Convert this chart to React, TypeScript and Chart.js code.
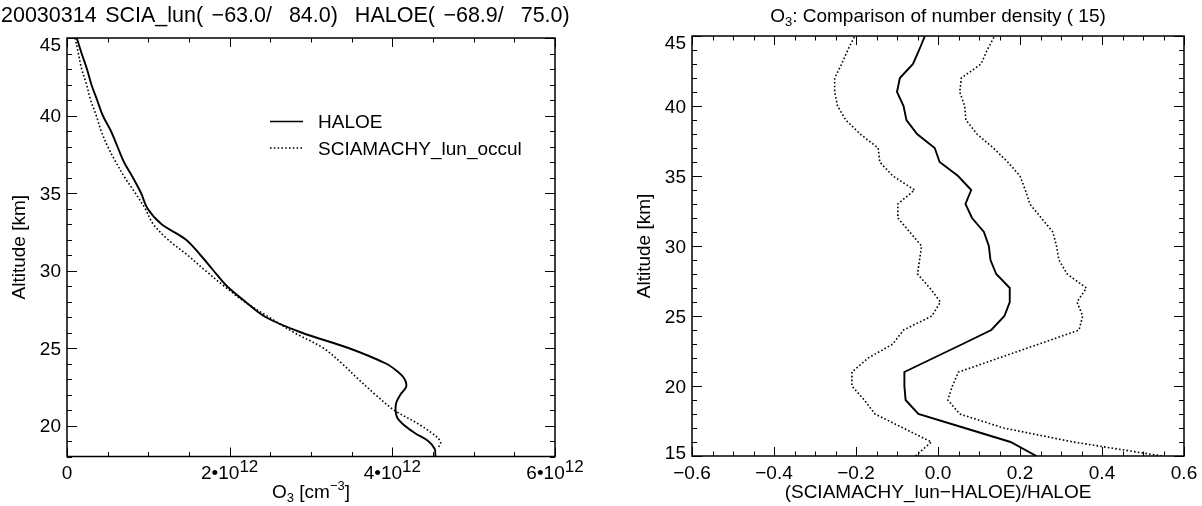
import React, { useEffect, useRef } from "react";
import { Chart, registerables } from "chart.js";

Chart.register(...registerables);

const FONT = '"Liberation Sans", Arial, Helvetica, sans-serif';
const MINUS = "\u2212";

// ---------------- Left panel: O3 number density (units of 10^12 cm^-3) ----------------
const haloeAltitude = [45, 44, 43, 42, 41, 40, 39, 38, 37, 36, 35, 34, 33, 32, 31, 30, 29, 28, 27, 26, 25, 24, 23.5, 23, 22.5, 22, 21.5, 21, 20.5, 20, 19.5, 19, 18.5, 18];
const haloeO3 = [0.12, 0.18, 0.245, 0.3, 0.37, 0.44, 0.54, 0.62, 0.7, 0.81, 0.91, 0.99, 1.16, 1.46, 1.64, 1.8, 1.965, 2.19, 2.44, 2.88, 3.46, 3.92, 4.06, 4.15, 4.17, 4.1, 4.05, 4.04, 4.06, 4.15, 4.28, 4.44, 4.52, 4.53];
const sciaAltitude = [45, 44, 43, 42, 41, 40, 39, 38, 37, 36, 35, 34, 33, 32, 31, 30, 29, 28, 27, 26, 25, 24, 23, 22, 21, 20, 19, 18.5];
const sciaO3 = [0.1, 0.14, 0.18, 0.24, 0.29, 0.36, 0.42, 0.5, 0.6, 0.71, 0.84, 0.96, 1.06, 1.24, 1.48, 1.7, 1.93, 2.18, 2.48, 2.79, 3.15, 3.38, 3.58, 3.79, 4.02, 4.35, 4.59, 4.56];
const leftXTicks = [0, 2, 4, 6];
const leftYTicks = [20, 25, 30, 35, 40, 45];
const leftTitle = "20030314 SCIA_lun( " + MINUS + "63.0/  84.0)  HALOE( " + MINUS + "68.9/  75.0)";
const leftLegend = ["HALOE", "SCIAMACHY_lun_occul"];

// ---------------- Right panel: relative deviation statistics ----------------
const devAltitude = [15, 16, 17, 18, 19, 20, 21, 22, 23, 24, 25, 26, 27, 28, 29, 30, 31, 32, 33, 34, 35, 36, 37, 38, 39, 40, 41, 42, 43, 44, 45];
const meanDeviation = [0.24, 0.177, 0.065, -0.048, -0.079, -0.082, -0.082, -0.011, 0.06, 0.13, 0.162, 0.175, 0.175, 0.142, 0.128, 0.124, 0.112, 0.083, 0.067, 0.081, 0.049, 0.004, -0.008, -0.051, -0.077, -0.084, -0.1, -0.093, -0.061, -0.046, -0.032];
const rmsUpper = [0.546, 0.33, 0.16, 0.053, 0.024, 0.035, 0.05, 0.148, 0.246, 0.344, 0.353, 0.339, 0.362, 0.315, 0.295, 0.289, 0.28, 0.252, 0.224, 0.213, 0.2, 0.17, 0.135, 0.095, 0.068, 0.065, 0.053, 0.057, 0.105, 0.12, 0.138];
const rmsLower = [-0.055, -0.016, -0.085, -0.154, -0.18, -0.21, -0.21, -0.17, -0.11, -0.084, -0.015, 0.006, -0.02, -0.05, -0.045, -0.04, -0.069, -0.098, -0.098, -0.057, -0.11, -0.142, -0.146, -0.19, -0.225, -0.245, -0.252, -0.252, -0.235, -0.22, -0.203];
const rightXTicks = [-0.6, -0.4, -0.2, 0, 0.2, 0.4, 0.6];
const rightYTicks = [15, 20, 25, 30, 35, 40, 45];
const rightTitle = ": Comparison of number density ( 15)";
const rightLegend = ["Mean Deviation", "RMS"];

type Part = { t: string; s: number; dy: number };

function drawRich(ctx: CanvasRenderingContext2D, parts: Part[], x: number, baseline: number, align: "left" | "center" | "right") {
  let total = 0;
  const widths = parts.map((p) => {
    ctx.font = `${p.s}px ${FONT}`;
    const w = ctx.measureText(p.t).width;
    total += w;
    return w;
  });
  let cx = align === "left" ? x : align === "center" ? x - total / 2 : x - total;
  ctx.textAlign = "left";
  ctx.textBaseline = "alphabetic";
  parts.forEach((p, i) => {
    ctx.font = `${p.s}px ${FONT}`;
    ctx.fillText(p.t, cx, baseline + p.dy);
    cx += widths[i];
  });
}

function tickValues(min: number, max: number, step: number) {
  const out: number[] = [];
  const n = Math.round((max - min) / step);
  for (let i = 0; i <= n; i++) out.push(min + i * step);
  return out;
}

function isMajor(v: number, step: number) {
  const r = v / step;
  return Math.abs(r - Math.round(r)) < 1e-6;
}

type PanelSpec = {
  width: number;
  padding: { left: number; right: number; top: number; bottom: number };
  xMin: number; xMax: number; yMin: number; yMax: number;
  xMajor: number; xMinor: number; yMajor: number; yMinor: number;
  datasets: any[];
  decorate: (ctx: CanvasRenderingContext2D, chart: any) => void;
};

function drawFrameAndTicks(ctx: CanvasRenderingContext2D, chart: any, spec: PanelSpec) {
  const ca = chart.chartArea;
  const xs = chart.scales.x;
  const ys = chart.scales.y;
  ctx.save();
  ctx.strokeStyle = "#000";
  ctx.lineWidth = 1;
  for (const v of tickValues(spec.xMin, spec.xMax, spec.xMinor)) {
    const px = Math.round(xs.getPixelForValue(v)) + 0.5;
    const len = isMajor(v, spec.xMajor) ? 9 : 4.5;
    ctx.beginPath();
    ctx.moveTo(px, ca.bottom);
    ctx.lineTo(px, ca.bottom - len);
    ctx.moveTo(px, ca.top);
    ctx.lineTo(px, ca.top + len);
    ctx.stroke();
  }
  for (const v of tickValues(spec.yMin, spec.yMax, spec.yMinor)) {
    const py = Math.round(ys.getPixelForValue(v)) + 0.5;
    const len = isMajor(v, spec.yMajor) ? 10 : 5;
    ctx.beginPath();
    ctx.moveTo(ca.left, py);
    ctx.lineTo(ca.left + len, py);
    ctx.moveTo(ca.right, py);
    ctx.lineTo(ca.right - len, py);
    ctx.stroke();
  }
  ctx.lineWidth = 1.5;
  ctx.strokeRect(ca.left, ca.top, ca.right - ca.left, ca.bottom - ca.top);
  ctx.restore();
}

function drawYLabels(ctx: CanvasRenderingContext2D, chart: any, ticks: number[]) {
  const ca = chart.chartArea;
  const ys = chart.scales.y;
  ctx.save();
  ctx.fillStyle = "#000";
  ctx.font = `19px ${FONT}`;
  ctx.textAlign = "right";
  ctx.textBaseline = "alphabetic";
  for (const v of ticks) {
    let cy = ys.getPixelForValue(v);
    cy = Math.max(cy, ca.top + 6);
    cy = Math.min(cy, ca.bottom - 3.5);
    ctx.fillText(String(v), ca.left - 6, cy + 6.8);
  }
  ctx.restore();
}

function drawRotated(ctx: CanvasRenderingContext2D, text: string, x: number, y: number, size: number) {
  ctx.save();
  ctx.translate(x, y);
  ctx.rotate(-Math.PI / 2);
  ctx.font = `${size}px ${FONT}`;
  ctx.fillStyle = "#000";
  ctx.textAlign = "center";
  ctx.textBaseline = "middle";
  ctx.fillText(text, 0, 0);
  ctx.restore();
}

function drawLegend(ctx: CanvasRenderingContext2D, items: { label: string; dash: number[] }[], x0: number, x1: number, tx: number, y0: number, dy: number) {
  ctx.save();
  items.forEach((it, i) => {
    const y = y0 + i * dy;
    ctx.strokeStyle = "#000";
    ctx.lineWidth = it.dash.length ? 1.5 : 1.6;
    ctx.setLineDash(it.dash);
    ctx.beginPath();
    ctx.moveTo(x0, y);
    ctx.lineTo(x1, y);
    ctx.stroke();
    ctx.setLineDash([]);
    ctx.fillStyle = "#000";
    ctx.font = `19px ${FONT}`;
    ctx.textAlign = "left";
    ctx.textBaseline = "alphabetic";
    ctx.fillText(it.label, tx, y + 6.8);
  });
  ctx.restore();
}

const SOLID_DASH: number[] = [];
const DOT_DASH = [1.6, 2.2];

function lineDataset(xVals: number[], yVals: number[], dotted: boolean, tension: number) {
  return {
    data: yVals.map((y, i) => ({ x: xVals[i], y })),
    showLine: true,
    borderColor: "#000",
    backgroundColor: "#000",
    borderWidth: dotted ? 1.6 : 1.9,
    borderDash: dotted ? DOT_DASH : SOLID_DASH,
    pointRadius: 0,
    tension,
    fill: false,
  };
}

const leftSpec: PanelSpec = {
  width: 587,
  padding: { left: 67, right: 32, top: 38, bottom: 49.5 },
  xMin: 0, xMax: 6, yMin: 18, yMax: 45,
  xMajor: 2, xMinor: 0.5, yMajor: 5, yMinor: 1,
  datasets: [lineDataset(haloeO3, haloeAltitude, false, 0.35), lineDataset(sciaO3, sciaAltitude, true, 0.35)],
  decorate: (ctx, chart) => {
    const ca = chart.chartArea;
    const xs = chart.scales.x;
    ctx.save();
    ctx.fillStyle = "#000";
    // title (clipped by the canvas edge, as in the original)
    ctx.font = `21.5px ${FONT}`;
    ctx.textAlign = "left";
    ctx.textBaseline = "alphabetic";
    (ctx as any).wordSpacing = "2.5px";
    ctx.fillText(leftTitle, 1, 22);
    (ctx as any).wordSpacing = "0px";
    // x tick labels
    for (const v of leftXTicks) {
      const px = xs.getPixelForValue(v);
      if (v === 0) drawRich(ctx, [{ t: "0", s: 19, dy: 0 }], px, 479, "center");
      else drawRich(ctx, [{ t: `${v}\u202210`, s: 19, dy: 0 }, { t: "12", s: 17, dy: -7 }], px, 479, "center");
    }
    drawYLabels(ctx, chart, leftYTicks);
    drawRich(ctx, [
      { t: "O", s: 19, dy: 0 }, { t: "3", s: 13, dy: 4 }, { t: " [cm", s: 19, dy: 0 },
      { t: MINUS + "3", s: 13, dy: -8 }, { t: "]", s: 19, dy: 0 },
    ], (ca.left + ca.right) / 2, 498, "center");
    drawRotated(ctx, "Altitude [km]", 20, (ca.top + ca.bottom) / 2, 19);
    drawLegend(ctx, [{ label: leftLegend[0], dash: [] }, { label: leftLegend[1], dash: DOT_DASH }], 270, 303, 318, 121.5, 26.5);
    ctx.restore();
  },
};

const rightSpec: PanelSpec = {
  width: 602,
  padding: { left: 92, right: 18, top: 36, bottom: 50 },
  xMin: -0.6, xMax: 0.6, yMin: 15, yMax: 45,
  xMajor: 0.2, xMinor: 0.05, yMajor: 5, yMinor: 1,
  datasets: [
    lineDataset(meanDeviation, devAltitude, false, 0),
    lineDataset(rmsUpper, devAltitude, true, 0),
    lineDataset(rmsLower, devAltitude, true, 0),
  ],
  decorate: (ctx, chart) => {
    const ca = chart.chartArea;
    const xs = chart.scales.x;
    ctx.save();
    ctx.fillStyle = "#000";
    drawRich(ctx, [{ t: "O", s: 19, dy: 0 }, { t: "3", s: 13, dy: 4 }, { t: rightTitle, s: 19, dy: 0 }], (ca.left + ca.right) / 2, 22, "center");
    for (const v of rightXTicks) {
      const px = xs.getPixelForValue(v);
      const s = v.toFixed(1).replace("-", MINUS);
      drawRich(ctx, [{ t: s, s: 19, dy: 0 }], px, 479, "center");
    }
    drawYLabels(ctx, chart, rightYTicks);
    drawRich(ctx, [{ t: "(SCIAMACHY_lun" + MINUS + "HALOE)/HALOE", s: 19, dy: 0 }], (ca.left + ca.right) / 2, 498, "center");
    drawRotated(ctx, "Altitude [km]", 45, (ca.top + ca.bottom) / 2, 19);
    drawLegend(ctx, [{ label: rightLegend[0], dash: [] }, { label: rightLegend[1], dash: DOT_DASH }], 713, 745, 762, 176, 27);
    ctx.restore();
  },
};

function makeChart(canvas: HTMLCanvasElement, spec: PanelSpec) {
  const framePlugin = {
    id: "idlFrame",
    afterDraw(chart: any) {
      const ctx = chart.ctx as CanvasRenderingContext2D;
      drawFrameAndTicks(ctx, chart, spec);
      spec.decorate(ctx, chart);
    },
  };
  return new Chart(canvas, {
    type: "scatter",
    data: { datasets: spec.datasets },
    options: {
      animation: false,
      responsive: false,
      maintainAspectRatio: false,
      devicePixelRatio: 1,
      events: [],
      layout: { padding: spec.padding },
      plugins: { legend: { display: false }, tooltip: { enabled: false }, title: { display: false } },
      scales: {
        x: { type: "linear", min: spec.xMin, max: spec.xMax, display: false },
        y: { type: "linear", min: spec.yMin, max: spec.yMax, display: false },
      },
    } as any,
    plugins: [framePlugin],
  });
}

export default function App() {
  const leftRef = useRef<HTMLCanvasElement>(null);
  const rightRef = useRef<HTMLCanvasElement>(null);

  useEffect(() => {
    const a = makeChart(leftRef.current!, leftSpec);
    const b = makeChart(rightRef.current!, rightSpec);
    return () => {
      a.destroy();
      b.destroy();
    };
  }, []);

  return (
    <div style={{ position: "absolute", left: 0, top: 0, width: 1202, height: 506, background: "#fff", overflow: "hidden" }}>
      <canvas ref={leftRef} width={leftSpec.width} height={506} style={{ position: "absolute", left: 0, top: 0, width: leftSpec.width, height: 506 }} />
      <canvas ref={rightRef} width={rightSpec.width} height={506} style={{ position: "absolute", left: 600, top: 0, width: rightSpec.width, height: 506 }} />
    </div>
  );
}
